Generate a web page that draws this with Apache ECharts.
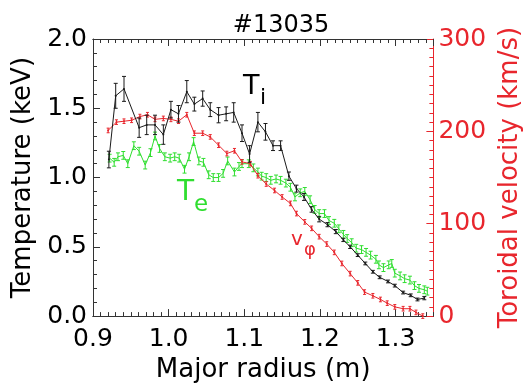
<!DOCTYPE html>
<html>
<head>
<meta charset="utf-8">
<script src="https://cdn.jsdelivr.net/npm/echarts@6/dist/echarts.min.js"></script>
<style>
html, body { margin: 0; padding: 0; background: #fff; }
#chart { width: 531px; height: 388px; }
</style>
</head>
<body>
<div id="chart"></div>
<script>
/* ion temperature T_i (keV) */
var tiR = [0.921,0.930,0.941,0.961,0.971,0.982,0.993,1.003,1.013,1.024,1.034,1.045,1.055,1.066,1.076,1.086,1.097,1.107,1.118,1.128,
           1.138,1.148,1.159,1.169,1.179,1.189,1.199,1.210,1.221,1.231,1.240,1.250,1.260,1.270,1.279,1.290,1.299,1.310,1.320,1.329,1.338];
var tiVal = [1.13,1.59,1.64,1.36,1.38,1.38,1.31,1.49,1.46,1.62,1.53,1.57,1.49,1.45,1.46,1.47,1.32,1.17,1.40,1.33,
             1.23,1.23,1.01,0.92,0.86,0.77,0.70,0.66,0.61,0.55,0.50,0.44,0.38,0.32,0.28,0.25,0.22,0.17,0.15,0.12,0.13];
var tiErr = [0.06,0.09,0.09,0.07,0.07,0.07,0.07,0.06,0.06,0.08,0.05,0.055,0.05,0.055,0.05,0.07,0.06,0.06,0.07,0.06,
             0.035,0.035,0.03,0.025,0.025,0.02,0.02,0.015,0.015,0.012,0.012,0.01,0.01,0.01,0.01,0.01,0.01,0.01,0.01,0.01,0.012];

/* electron temperature T_e (keV) */
var teR = [0.922,0.928,0.933,0.940,0.946,0.954,0.961,0.969,0.976,0.982,0.988,0.995,1.002,1.008,1.014,1.021,1.027,1.033,1.040,1.046,
           1.053,1.059,1.066,1.072,1.078,1.087,1.093,1.097,1.106,1.112,1.118,1.123,1.129,1.135,1.142,1.148,1.155,1.161,1.167,1.174,
           1.180,1.187,1.193,1.199,1.206,1.212,1.219,1.225,1.231,1.236,1.242,1.248,1.255,1.261,1.267,1.274,1.278,1.284,1.291,1.295,
           1.299,1.306,1.312,1.319,1.325,1.331,1.338,1.342];
var teVal = [1.14,1.11,1.15,1.16,1.10,1.23,1.19,1.09,1.18,1.30,1.21,1.15,1.14,1.15,1.14,1.06,1.15,1.26,1.12,1.11,
             1.02,1.00,1.00,1.03,1.12,1.04,1.08,1.10,1.10,1.07,1.04,1.01,1.00,0.98,0.99,0.98,0.96,0.93,0.86,0.89,
             0.90,0.84,0.77,0.74,0.74,0.69,0.67,0.63,0.59,0.56,0.53,0.49,0.48,0.46,0.44,0.41,0.37,0.35,0.37,0.38,
             0.31,0.29,0.27,0.26,0.22,0.20,0.19,0.18];
var teErr = 0.028;

/* toroidal velocity v_phi (km/s) */
var vR = [0.920,0.931,0.941,0.951,0.962,0.972,0.982,0.993,1.003,1.013,1.024,1.034,1.045,1.055,1.066,1.077,1.087,1.097,1.108,1.118,
          1.129,1.140,1.150,1.161,1.169,1.180,1.189,1.199,1.209,1.219,1.229,1.240,1.250,1.259,1.270,1.280,1.289,1.299,1.310,1.319,
          1.327,1.336];
var vVal = [201,210,211,212,216,218,213,214,213,211,218,198,198,194,185,176,179,167,165,152,
            143,136,129,122,111,102,95,86,78,69,57,46,36,26,22,18,14,10,8,8,
            4,0];
var vErr = 2.5;

var xTicks = [0.9, 1.0, 1.1, 1.2, 1.3];

var FONT = '"DejaVu Sans", sans-serif';
var RED = '#e8262d';
var GREEN = '#2fde2f';
var BLACK = '#1a1a1a';

function pairs(xs, ys) {
    return xs.map(function (x, i) { return [x, ys[i]]; });
}

/* vertical error bars with small caps, drawn through the axes */
function errBars(xs, ys, errs, color, cap, yIdx, z) {
    var data = xs.map(function (x, i) {
        return [x, ys[i], Array.isArray(errs) ? errs[i] : errs];
    });
    return {
        type: 'custom',
        xAxisIndex: 0,
        yAxisIndex: yIdx,
        data: data,
        silent: true,
        z: z,
        encode: { x: 0, y: 1 },
        renderItem: function (params, api) {
            var x = api.value(0), y = api.value(1), e = api.value(2);
            var hi = api.coord([x, y + e]);
            var lo = api.coord([x, y - e]);
            var st = { stroke: color, lineWidth: 1 };
            return {
                type: 'group',
                children: [
                    { type: 'line', shape: { x1: hi[0], y1: hi[1], x2: lo[0], y2: lo[1] }, style: st },
                    { type: 'line', shape: { x1: hi[0] - cap, y1: hi[1], x2: hi[0] + cap, y2: hi[1] }, style: st },
                    { type: 'line', shape: { x1: lo[0] - cap, y1: lo[1], x2: lo[0] + cap, y2: lo[1] }, style: st }
                ]
            };
        }
    };
}

function xAxisDef(pos, minor, withLabel) {
    return {
        type: 'value',
        position: pos,
        min: 0.9,
        max: 1.35,
        interval: minor ? 0.01 : 0.1,
        axisLine: { show: true, onZero: false, lineStyle: { color: '#333', width: 1 } },
        axisTick: { show: true, inside: true, length: minor ? 4 : 7, lineStyle: { color: '#333' } },
        axisLabel: withLabel ? {
            show: true, color: '#000', fontSize: 25, fontFamily: FONT, margin: 11,
            showMaxLabel: false,
            formatter: function (v) { return xTicks.indexOf(Math.round(v * 10) / 10) >= 0 ? v.toFixed(1) : ''; }
        } : { show: false },
        splitLine: { show: false },
        name: withLabel ? 'Major radius (m)' : '',
        nameLocation: 'middle',
        nameGap: 38,
        nameTextStyle: { color: '#000', fontSize: 26, fontFamily: FONT }
    };
}

var chart = echarts.init(document.getElementById('chart'));
chart.setOption({
    animation: false,
    backgroundColor: '#fff',
    grid: { left: 93, right: 87, top: 39, bottom: 64 },
    xAxis: [
        xAxisDef('bottom', false, true),
        xAxisDef('top', false, false),
        xAxisDef('bottom', true, false),
        xAxisDef('top', true, false)
    ],
    yAxis: [
        {
            type: 'value',
            position: 'left',
            min: 0, max: 2, interval: 0.5,
            axisLine: { show: true, onZero: false, lineStyle: { color: '#333', width: 1 } },
            axisTick: { show: true, inside: true, length: 7, lineStyle: { color: '#333' } },
            minorTick: { show: true, splitNumber: 5, length: 4, lineStyle: { color: '#333' } },
            axisLabel: {
                color: '#000', fontSize: 25, fontFamily: FONT, margin: 6,
                formatter: function (v) { return v.toFixed(1); }
            },
            splitLine: { show: false },
            name: 'Temperature (keV)',
            nameLocation: 'middle',
            nameGap: 54,
            nameTextStyle: { color: '#000', fontSize: 26, fontFamily: FONT }
        },
        {
            type: 'value',
            position: 'right',
            min: 0, max: 300, interval: 100,
            axisLine: { show: true, onZero: false, lineStyle: { color: RED, width: 1 } },
            axisTick: { show: true, inside: true, length: 7, lineStyle: { color: RED } },
            minorTick: { show: true, splitNumber: 10, length: 4, lineStyle: { color: RED } },
            axisLabel: { color: RED, fontSize: 25, fontFamily: FONT, margin: 5 },
            splitLine: { show: false },
            name: 'Toroidal velocity (km/s)',
            nameLocation: 'middle',
            nameGap: 62,
            nameTextStyle: { color: RED, fontSize: 26, fontFamily: FONT }
        }
    ],
    series: [
        errBars(teR, teVal, teErr, GREEN, 2, 0, 2),
        {
            name: 'Te', type: 'line', xAxisIndex: 0, yAxisIndex: 0,
            data: pairs(teR, teVal), showSymbol: false, z: 2,
            lineStyle: { color: GREEN, width: 1 }
        },
        errBars(vR, vVal, vErr, RED, 1.5, 1, 3),
        {
            name: 'vphi', type: 'line', xAxisIndex: 0, yAxisIndex: 1,
            data: pairs(vR, vVal), symbol: 'circle', symbolSize: 2, z: 3,
            itemStyle: { color: RED }, lineStyle: { color: RED, width: 1 }
        },
        errBars(tiR, tiVal, tiErr, BLACK, 2, 0, 4),
        {
            name: 'Ti', type: 'line', xAxisIndex: 0, yAxisIndex: 0,
            data: pairs(tiR, tiVal), symbol: 'circle', symbolSize: 2, z: 4,
            itemStyle: { color: BLACK }, lineStyle: { color: BLACK, width: 1 }
        }
    ],
    graphic: [
        { type: 'text', x: 281, y: 26, style: { text: '#13035', fill: '#000', font: '24px ' + FONT, align: 'center', verticalAlign: 'middle' } },
        { type: 'text', x: 243, y: 87, style: { text: 'T', fill: '#000', font: '27px ' + FONT, align: 'left', verticalAlign: 'middle' } },
        { type: 'text', x: 260, y: 98, style: { text: 'i', fill: '#000', font: '22px ' + FONT, align: 'left', verticalAlign: 'middle' } },
        { type: 'text', x: 177, y: 193, style: { text: 'T', fill: GREEN, font: '28px ' + FONT, align: 'left', verticalAlign: 'middle' } },
        { type: 'text', x: 194, y: 205, style: { text: 'e', fill: GREEN, font: '23px ' + FONT, align: 'left', verticalAlign: 'middle' } },
        { type: 'text', x: 291, y: 240, style: { text: 'v', fill: RED, font: '20px ' + FONT, align: 'left', verticalAlign: 'middle' } },
        { type: 'text', x: 304, y: 250, style: { text: 'φ', fill: RED, font: '18px ' + FONT, align: 'left', verticalAlign: 'middle' } }
    ]
});
</script>
</body>
</html>
